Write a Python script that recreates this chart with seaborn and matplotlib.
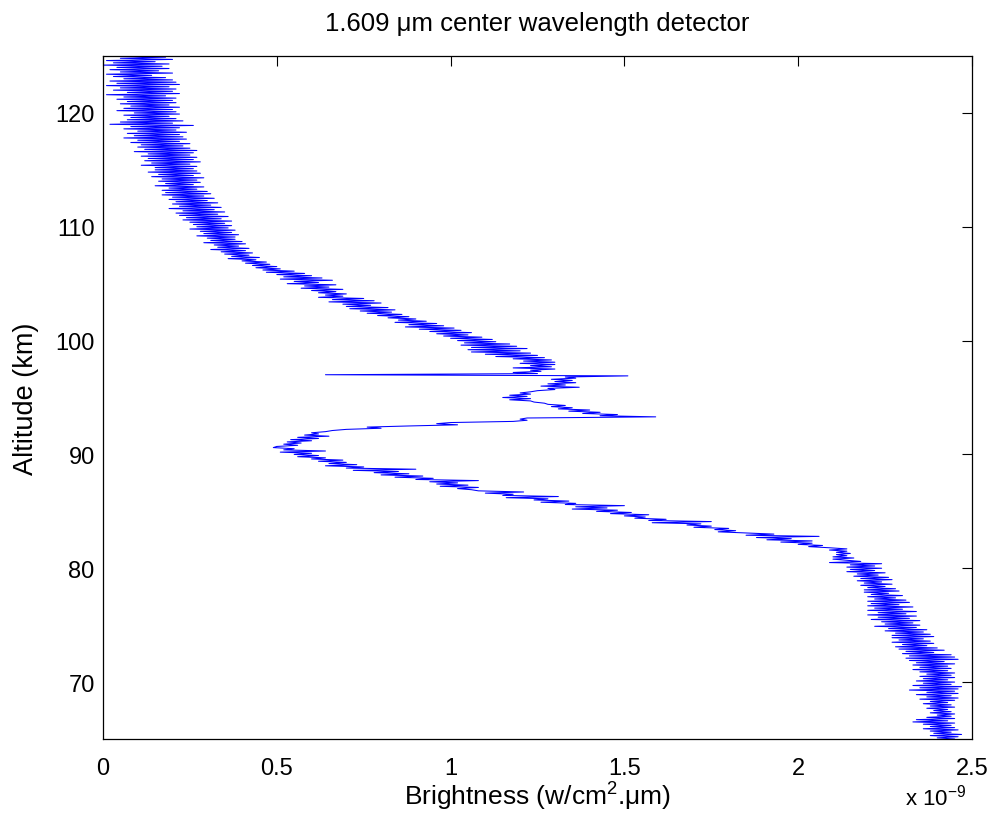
import matplotlib
matplotlib.use("Agg")
import matplotlib.pyplot as plt
import seaborn as sns
import pandas as pd

# Altitude samples (km), one row per kilometre, top to bottom
altitude_km = [
    125.0, 124.9, 124.8, 124.7, 124.6, 124.5, 124.4, 124.3, 124.2, 124.1,
    124.0, 123.9, 123.8, 123.7, 123.6, 123.5, 123.4, 123.3, 123.2, 123.1,
    123.0, 122.9, 122.8, 122.7, 122.6, 122.5, 122.4, 122.3, 122.2, 122.1,
    122.0, 121.9, 121.8, 121.7, 121.6, 121.5, 121.4, 121.3, 121.2, 121.1,
    121.0, 120.9, 120.8, 120.7, 120.6, 120.5, 120.4, 120.3, 120.2, 120.1,
    120.0, 119.9, 119.8, 119.7, 119.6, 119.5, 119.4, 119.3, 119.2, 119.1,
    119.0, 118.9, 118.8, 118.7, 118.6, 118.5, 118.4, 118.3, 118.2, 118.1,
    118.0, 117.9, 117.8, 117.7, 117.6, 117.5, 117.4, 117.3, 117.2, 117.1,
    117.0, 116.9, 116.8, 116.7, 116.6, 116.5, 116.4, 116.3, 116.2, 116.1,
    116.0, 115.9, 115.8, 115.7, 115.6, 115.5, 115.4, 115.3, 115.2, 115.1,
    115.0, 114.9, 114.8, 114.7, 114.6, 114.5, 114.4, 114.3, 114.2, 114.1,
    114.0, 113.9, 113.8, 113.7, 113.6, 113.5, 113.4, 113.3, 113.2, 113.1,
    113.0, 112.9, 112.8, 112.7, 112.6, 112.5, 112.4, 112.3, 112.2, 112.1,
    112.0, 111.9, 111.8, 111.7, 111.6, 111.5, 111.4, 111.3, 111.2, 111.1,
    111.0, 110.9, 110.8, 110.7, 110.6, 110.5, 110.4, 110.3, 110.2, 110.1,
    110.0, 109.9, 109.8, 109.7, 109.6, 109.5, 109.4, 109.3, 109.2, 109.1,
    109.0, 108.9, 108.8, 108.7, 108.6, 108.5, 108.4, 108.3, 108.2, 108.1,
    108.0, 107.9, 107.8, 107.7, 107.6, 107.5, 107.4, 107.3, 107.2, 107.1,
    107.0, 106.9, 106.8, 106.7, 106.6, 106.5, 106.4, 106.3, 106.2, 106.1,
    106.0, 105.9, 105.8, 105.7, 105.6, 105.5, 105.4, 105.3, 105.2, 105.1,
    105.0, 104.9, 104.8, 104.7, 104.6, 104.5, 104.4, 104.3, 104.2, 104.1,
    104.0, 103.9, 103.8, 103.7, 103.6, 103.5, 103.4, 103.3, 103.2, 103.1,
    103.0, 102.9, 102.8, 102.7, 102.6, 102.5, 102.4, 102.3, 102.2, 102.1,
    102.0, 101.9, 101.8, 101.7, 101.6, 101.5, 101.4, 101.3, 101.2, 101.1,
    101.0, 100.9, 100.8, 100.7, 100.6, 100.5, 100.4, 100.3, 100.2, 100.1,
    100.0, 99.9, 99.8, 99.7, 99.6, 99.5, 99.4, 99.3, 99.2, 99.1,
    99.0, 98.9, 98.8, 98.7, 98.6, 98.5, 98.4, 98.3, 98.2, 98.1,
    98.0, 97.9, 97.8, 97.7, 97.6, 97.5, 97.4, 97.3, 97.2, 97.1,
    97.0, 96.9, 96.8, 96.7, 96.6, 96.5, 96.4, 96.3, 96.2, 96.1,
    96.0, 95.9, 95.8, 95.7, 95.6, 95.5, 95.4, 95.3, 95.2, 95.1,
    95.0, 94.9, 94.8, 94.7, 94.6, 94.5, 94.4, 94.3, 94.2, 94.1,
    94.0, 93.9, 93.8, 93.7, 93.6, 93.5, 93.4, 93.3, 93.2, 93.1,
    93.0, 92.9, 92.8, 92.7, 92.6, 92.5, 92.4, 92.3, 92.2, 92.1,
    92.0, 91.9, 91.8, 91.7, 91.6, 91.5, 91.4, 91.3, 91.2, 91.1,
    91.0, 90.9, 90.8, 90.7, 90.6, 90.5, 90.4, 90.3, 90.2, 90.1,
    90.0, 89.9, 89.8, 89.7, 89.6, 89.5, 89.4, 89.3, 89.2, 89.1,
    89.0, 88.9, 88.8, 88.7, 88.6, 88.5, 88.4, 88.3, 88.2, 88.1,
    88.0, 87.9, 87.8, 87.7, 87.6, 87.5, 87.4, 87.3, 87.2, 87.1,
    87.0, 86.9, 86.8, 86.7, 86.6, 86.5, 86.4, 86.3, 86.2, 86.1,
    86.0, 85.9, 85.8, 85.7, 85.6, 85.5, 85.4, 85.3, 85.2, 85.1,
    85.0, 84.9, 84.8, 84.7, 84.6, 84.5, 84.4, 84.3, 84.2, 84.1,
    84.0, 83.9, 83.8, 83.7, 83.6, 83.5, 83.4, 83.3, 83.2, 83.1,
    83.0, 82.9, 82.8, 82.7, 82.6, 82.5, 82.4, 82.3, 82.2, 82.1,
    82.0, 81.9, 81.8, 81.7, 81.6, 81.5, 81.4, 81.3, 81.2, 81.1,
    81.0, 80.9, 80.8, 80.7, 80.6, 80.5, 80.4, 80.3, 80.2, 80.1,
    80.0, 79.9, 79.8, 79.7, 79.6, 79.5, 79.4, 79.3, 79.2, 79.1,
    79.0, 78.9, 78.8, 78.7, 78.6, 78.5, 78.4, 78.3, 78.2, 78.1,
    78.0, 77.9, 77.8, 77.7, 77.6, 77.5, 77.4, 77.3, 77.2, 77.1,
    77.0, 76.9, 76.8, 76.7, 76.6, 76.5, 76.4, 76.3, 76.2, 76.1,
    76.0, 75.9, 75.8, 75.7, 75.6, 75.5, 75.4, 75.3, 75.2, 75.1,
    75.0, 74.9, 74.8, 74.7, 74.6, 74.5, 74.4, 74.3, 74.2, 74.1,
    74.0, 73.9, 73.8, 73.7, 73.6, 73.5, 73.4, 73.3, 73.2, 73.1,
    73.0, 72.9, 72.8, 72.7, 72.6, 72.5, 72.4, 72.3, 72.2, 72.1,
    72.0, 71.9, 71.8, 71.7, 71.6, 71.5, 71.4, 71.3, 71.2, 71.1,
    71.0, 70.9, 70.8, 70.7, 70.6, 70.5, 70.4, 70.3, 70.2, 70.1,
    70.0, 69.9, 69.8, 69.7, 69.6, 69.5, 69.4, 69.3, 69.2, 69.1,
    69.0, 68.9, 68.8, 68.7, 68.6, 68.5, 68.4, 68.3, 68.2, 68.1,
    68.0, 67.9, 67.8, 67.7, 67.6, 67.5, 67.4, 67.3, 67.2, 67.1,
    67.0, 66.9, 66.8, 66.7, 66.6, 66.5, 66.4, 66.3, 66.2, 66.1,
    66.0, 65.9, 65.8, 65.7, 65.6, 65.5, 65.4, 65.3, 65.2, 65.1,
    65.0,
]

# Brightness, in units of 1e-9 W/cm^2.um, one row per kilometre
brightness_e9 = [
    0.02, 0.18, 0.05, 0.20, 0.01, 0.15, 0.03, 0.19, 0.00, 0.17,
    0.04, 0.19, 0.02, 0.16, 0.05, 0.20, 0.01, 0.14, 0.03, 0.18,
    0.06, 0.20, 0.02, 0.21, 0.04, 0.22, 0.01, 0.19, 0.05, 0.21,
    0.03, 0.20, 0.07, 0.22, 0.01, 0.18, 0.06, 0.21, 0.04, 0.20,
    0.07, 0.21, 0.05, 0.19, 0.08, 0.22, 0.06, 0.20, 0.04, 0.21,
    0.09, 0.22, 0.06, 0.19, 0.08, 0.21, 0.07, 0.23, 0.05, 0.20,
    0.02, 0.26, 0.08, 0.22, 0.06, 0.21, 0.10, 0.24, 0.07, 0.22,
    0.09, 0.23, 0.06, 0.24, 0.10, 0.22, 0.08, 0.25, 0.11, 0.23,
    0.10, 0.25, 0.12, 0.27, 0.09, 0.26, 0.13, 0.25, 0.11, 0.27,
    0.13, 0.26, 0.12, 0.28, 0.14, 0.25, 0.11, 0.27, 0.15, 0.26,
    0.15, 0.27, 0.13, 0.28, 0.16, 0.26, 0.14, 0.29, 0.17, 0.27,
    0.16, 0.28, 0.18, 0.26, 0.15, 0.29, 0.19, 0.27, 0.17, 0.30,
    0.18, 0.31, 0.17, 0.29, 0.20, 0.32, 0.19, 0.30, 0.21, 0.33,
    0.20, 0.31, 0.22, 0.34, 0.19, 0.32, 0.23, 0.35, 0.21, 0.33,
    0.22, 0.36, 0.24, 0.34, 0.23, 0.37, 0.25, 0.35, 0.26, 0.37,
    0.27, 0.36, 0.25, 0.38, 0.28, 0.37, 0.29, 0.39, 0.27, 0.38,
    0.30, 0.38, 0.31, 0.40, 0.29, 0.41, 0.32, 0.39, 0.33, 0.42,
    0.31, 0.41, 0.34, 0.43, 0.35, 0.42, 0.37, 0.45, 0.36, 0.44,
    0.40, 0.47, 0.41, 0.48, 0.43, 0.50, 0.44, 0.51, 0.46, 0.55,
    0.47, 0.58, 0.50, 0.60, 0.52, 0.63, 0.51, 0.66, 0.55, 0.62,
    0.53, 0.67, 0.58, 0.65, 0.57, 0.69, 0.60, 0.67, 0.62, 0.70,
    0.64, 0.69, 0.62, 0.75, 0.66, 0.78, 0.65, 0.80, 0.69, 0.77,
    0.70, 0.82, 0.71, 0.84, 0.74, 0.83, 0.76, 0.86, 0.79, 0.88,
    0.82, 0.90, 0.85, 0.93, 0.84, 0.96, 0.88, 0.98, 0.87, 1.01,
    0.91, 1.03, 0.94, 1.06, 0.96, 1.05, 0.98, 1.09, 1.00, 1.12,
    1.02, 1.13, 1.04, 1.17, 1.03, 1.19, 1.06, 1.22, 1.05, 1.20,
    1.06, 1.23, 1.10, 1.25, 1.13, 1.27, 1.18, 1.29, 1.21, 1.30,
    1.20, 1.30, 1.23, 1.29, 1.18, 1.30, 1.23, 1.26, 1.18, 1.25,
    0.64, 1.51, 1.33, 1.36, 1.29, 1.35, 1.30, 1.36, 1.28, 1.33,
    1.26, 1.37, 1.28, 1.30, 1.25, 1.23, 1.20, 1.23, 1.17, 1.22,
    1.15, 1.23, 1.17, 1.23, 1.24, 1.27, 1.28, 1.33, 1.29, 1.35,
    1.31, 1.40, 1.34, 1.43, 1.38, 1.48, 1.43, 1.59, 1.22, 1.20,
    1.22, 1.18, 1.00, 0.96, 1.02, 0.88, 0.76, 0.80, 0.70, 0.66,
    0.64, 0.60, 0.62, 0.58, 0.65, 0.56, 0.62, 0.54, 0.60, 0.53,
    0.57, 0.52, 0.56, 0.50, 0.49, 0.55, 0.52, 0.64, 0.51, 0.60,
    0.55, 0.62, 0.56, 0.64, 0.60, 0.69, 0.62, 0.70, 0.65, 0.73,
    0.64, 0.75, 0.70, 0.90, 0.72, 0.85, 0.78, 0.88, 0.80, 0.92,
    0.84, 0.95, 0.90, 1.08, 0.94, 1.02, 0.96, 1.05, 0.97, 1.08,
    1.02, 1.06, 1.08, 1.21, 1.10, 1.18, 1.15, 1.31, 1.16, 1.28,
    1.24, 1.34, 1.26, 1.36, 1.33, 1.50, 1.36, 1.45, 1.35, 1.48,
    1.42, 1.52, 1.46, 1.57, 1.50, 1.56, 1.53, 1.62, 1.57, 1.75,
    1.58, 1.72, 1.68, 1.75, 1.70, 1.80, 1.76, 1.82, 1.77, 1.85,
    1.93, 1.85, 2.06, 1.88, 1.98, 1.91, 2.04, 1.95, 2.04, 2.00,
    2.07, 2.03, 2.09, 2.14, 2.09, 2.14, 2.11, 2.15, 2.11, 2.14,
    2.10, 2.16, 2.10, 2.14, 2.18, 2.09, 2.24, 2.15, 2.22, 2.14,
    2.24, 2.15, 2.22, 2.14, 2.25, 2.17, 2.23, 2.16, 2.26, 2.18,
    2.27, 2.17, 2.24, 2.19, 2.27, 2.18, 2.25, 2.20, 2.28, 2.19,
    2.29, 2.19, 2.26, 2.21, 2.30, 2.20, 2.28, 2.22, 2.31, 2.20,
    2.32, 2.21, 2.29, 2.20, 2.33, 2.22, 2.30, 2.20, 2.34, 2.23,
    2.31, 2.20, 2.34, 2.23, 2.32, 2.21, 2.35, 2.24, 2.33, 2.25,
    2.35, 2.22, 2.34, 2.26, 2.37, 2.25, 2.36, 2.28, 2.38, 2.27,
    2.39, 2.27, 2.36, 2.29, 2.38, 2.27, 2.39, 2.30, 2.37, 2.28,
    2.40, 2.29, 2.42, 2.31, 2.39, 2.30, 2.44, 2.32, 2.45, 2.31,
    2.46, 2.32, 2.42, 2.34, 2.45, 2.33, 2.43, 2.35, 2.44, 2.33,
    2.43, 2.35, 2.45, 2.37, 2.44, 2.35, 2.45, 2.36, 2.43, 2.34,
    2.45, 2.36, 2.44, 2.33, 2.47, 2.35, 2.46, 2.32, 2.45, 2.37,
    2.46, 2.34, 2.44, 2.37, 2.46, 2.35, 2.45, 2.38, 2.43, 2.36,
    2.44, 2.38, 2.45, 2.37, 2.43, 2.39, 2.44, 2.38, 2.45, 2.40,
    2.44, 2.37, 2.45, 2.34, 2.43, 2.33, 2.45, 2.36, 2.44, 2.38,
    2.45, 2.36, 2.46, 2.38, 2.44, 2.39, 2.47, 2.38, 2.46, 2.40,
    2.45,
]

x_ticks = [0, 0.5, 1, 1.5, 2, 2.5]
x_tick_labels = ["0", "0.5", "1", "1.5", "2", "2.5"]
y_ticks = [70, 80, 90, 100, 110, 120]

sns.set_style("white")
plt.rcParams["font.family"] = ["Liberation Sans", "DejaVu Sans"]
plt.rcParams["mathtext.fontset"] = "custom"
plt.rcParams["mathtext.rm"] = "Liberation Sans"
plt.rcParams["mathtext.it"] = "Liberation Sans:italic"
plt.rcParams["text.color"] = "black"
plt.rcParams["axes.labelcolor"] = "black"

df = pd.DataFrame({"brightness": brightness_e9, "altitude": altitude_km})

W, H = 994, 820
L, R, T, B = 103, 972, 57, 740
fig = plt.figure(figsize=(W / 100, H / 100), dpi=100)
ax = fig.add_axes([L / W, 1 - B / H, (R - L) / W, (B - T) / H])

sns.lineplot(data=df, x="brightness", y="altitude", sort=False, estimator=None,
             color=(0, 0, 1), linewidth=0.75, ax=ax)

ax.set_xlim(0, 2.5)
ax.set_ylim(65, 125)
ax.set_xticks(x_ticks)
ax.set_xticklabels(x_tick_labels)
ax.set_yticks(y_ticks)
ax.tick_params(direction="in", length=7, width=0.8, colors="black",
               labelsize=17, top=True, right=True)
ax.tick_params(axis="x", pad=13)
ax.tick_params(axis="y", pad=6)
for s in ax.spines.values():
    s.set_visible(True)
    s.set_color("black")
    s.set_linewidth(0.9)

ax.set_xlabel("Brightness (w/cm$^{2}$.\u03bcm)", fontsize=19, color="black")
ax.xaxis.label.set_verticalalignment("baseline")
ax.xaxis.set_label_coords(0.5, -(806 - B) / (B - T))
ax.set_ylabel("Altitude (km)", fontsize=19.5, color="black")
ax.yaxis.set_label_coords(-(L - 39) / (R - L), 0.5)

ax.text(0.5, 1 + (T - 31) / (B - T), "1.609 \u03bcm center wavelength detector",
        transform=ax.transAxes, fontsize=18.5, ha="center", va="baseline",
        color="black")
fig.text(905 / W, 1 - 806 / H, "x 10$^{-9}$", fontsize=16, ha="left",
         va="baseline", color="black")

fig.savefig("out.png", dpi=100, facecolor="white")
